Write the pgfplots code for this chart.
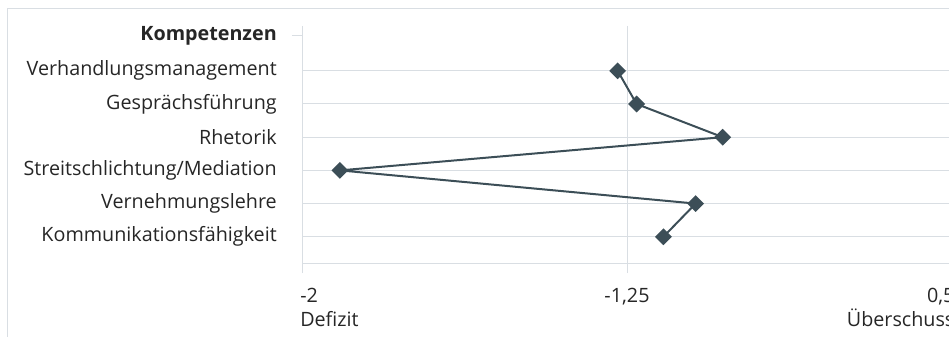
\documentclass[border=0pt]{standalone}
\usepackage{pgfplots}
\pgfplotsset{compat=1.18}
\usepackage{fontspec}
\setmainfont{Open Sans}
\definecolor{gridc}{HTML}{D9DEE3}
\definecolor{linec}{HTML}{3C4E57}
\definecolor{txt}{HTML}{262626}
\begin{document}
\begin{tikzpicture}
\fontsize{14.8pt}{17.5pt}\selectfont
\draw[gridc, line width=0.9pt] (5.625pt,-300pt) -- (5.625pt,-6.375pt) -- (750pt,-6.375pt);
\begin{axis}[
  at={(226.5pt,-197.25pt)}, anchor=south west,
  scale only axis, width=487.5pt, height=170.3pt,
  xmin=-2, xmax=0.5, ymin=-0.05, ymax=6.79,
  y dir=reverse,
  clip=false,
  axis line style={draw=none},
  tick align=outside,
  major tick length=7.5pt,
  xtick={-2,-0.75,0.5}, xticklabels={},
  ytick={1,2,3,4,5,6,6.79},
  yticklabels={Verhandlungsmanagement, Gesprächsführung, Rhetorik, Streitschlichtung/Mediation, Vernehmungslehre, Kommunikationsfähigkeit, {}},
  extra y ticks={-0.05},
  extra y tick labels={\bfseries Kompetenzen},
  extra y tick style={ytick style={draw=gridc, line width=0.75pt}, grid=none},
  ytick style={draw=none},
  xtick style={draw=gridc, line width=0.75pt},
  yticklabel style={inner sep=0pt, xshift=-11.25pt, text=txt, font=\fontsize{14.8pt}{17.5pt}\selectfont},
  xmajorgrids, ymajorgrids,
  grid style={gridc, line width=0.75pt},
]
\addplot[linec, line width=1.5pt, mark=square*, mark size=3.7pt, mark options={rotate=45, fill=linec, draw=linec}] coordinates {
  (-0.786,1) (-0.713,2) (-0.382,3) (-1.854,4) (-0.486,5) (-0.610,6)
};
\node[anchor=north west, align=left, inner sep=0pt, text=txt] at (axis cs:-2,6.79) [yshift=-19pt, xshift=-1.5pt] {-2\\Defizit};
\node[anchor=north, align=center, inner sep=0pt, text=txt] at (axis cs:-0.75,6.79) [yshift=-19pt] {-1,25};
\node[anchor=north east, align=right, inner sep=0pt, text=txt] at (axis cs:0.5,6.79) [yshift=-19pt, xshift=2pt] {0,5\\Überschuss};
\end{axis}
\pgfresetboundingbox
\path[use as bounding box] (0pt,0pt) rectangle (711.75pt,-252pt);
\end{tikzpicture}
\end{document}
